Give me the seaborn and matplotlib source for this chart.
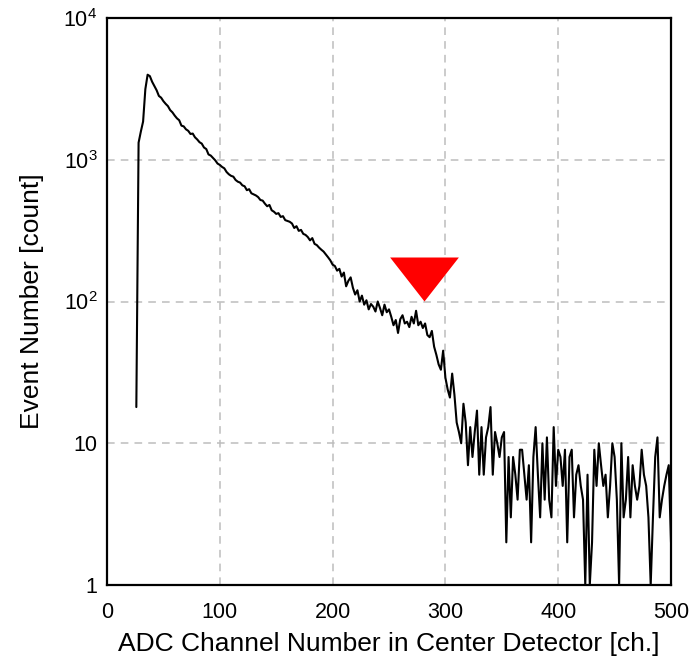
import numpy as np
import pandas as pd
import matplotlib
matplotlib.use("Agg")
import matplotlib.pyplot as plt
from matplotlib.ticker import FixedLocator, NullLocator
import seaborn as sns

# ---- data (ADC spectrum, 2-channel bins) ----
channel_start = 26
channel_step = 2
counts = [
    18, 1320, 1580, 1860, 3150, 3980, 3890, 3550, 3310, 3090,   # 26-44
    2820, 2740, 2590, 2480, 2390, 2240, 2160, 2050, 1960, 1900, # 46-64
    1740, 1720, 1640, 1600, 1520, 1530, 1440, 1390, 1330, 1300, # 66-84
    1220, 1190, 1090, 1070, 1030, 990, 940, 920, 890, 870,      # 86-104
    820, 790, 770, 760, 720, 700, 690, 660, 650, 610,           # 106-124
    620, 580, 570, 560, 545, 520, 515, 490, 470, 480,           # 126-144
    440, 430, 415, 420, 395, 400, 375, 370, 365, 355,           # 146-164
    330, 340, 315, 320, 300, 295, 285, 270, 280, 255,           # 166-184
    250, 240, 232, 225, 215, 205, 195, 182, 178, 165,           # 186-204
    170, 150, 160, 128, 140, 148, 125, 112, 120, 100,           # 206-224
    110, 95, 102, 88, 96, 92, 85, 100, 90, 80,                  # 226-244
    95, 84, 88, 78, 68, 74, 60, 75, 80, 70,                     # 246-264
    72, 66, 78, 70, 86, 68, 72, 65, 70, 58,                     # 266-284
    56, 62, 48, 42, 36, 33, 45, 29, 24, 21,                     # 286-304
    31, 22, 14, 12, 10, 19, 14, 7, 13, 8,                       # 306-324
    12, 17, 6, 13, 6, 11, 13, 18, 6, 12,                        # 326-344
    10, 8, 11, 12, 2, 8, 3, 8, 6, 4,                            # 346-364
    9, 9, 6, 4, 7, 2, 8, 13, 6, 3,                              # 366-384
    10, 4, 11, 4, 3, 13, 5, 9, 8, 5,                            # 386-404
    9, 2, 8, 9, 3, 6, 7, 5, 4, 1,                               # 406-424
    6, 1, 2, 9, 5, 10, 7, 5, 6, 3,                              # 426-444
    5, 10, 8, 4, 1, 10, 3, 4, 8, 3,                             # 446-464
    7, 5, 4, 5, 9, 6, 5, 3, 1, 3,                               # 466-484
    8, 11, 3, 4, 5, 6, 7, 2,                                    # 486-500
]
channels = channel_start + channel_step * np.arange(len(counts))

# marker pointing at the spectral edge
edge_channel = [281]
edge_count = [145]

x_ticks = [0, 100, 200, 300, 400, 500]
y_ticks = [1, 10, 100, 1000, 10000]
y_tick_labels = ["1", "10", r"10$^{2}$", r"10$^{3}$", r"10$^{4}$"]

df = pd.DataFrame({"channel": channels, "count": counts})

sns.set_theme(style="white")
plt.rcParams["font.family"] = ["Liberation Sans", "DejaVu Sans"]
plt.rcParams["mathtext.fontset"] = "custom"
plt.rcParams["mathtext.rm"] = "Liberation Sans"
plt.rcParams["mathtext.it"] = "Liberation Sans:italic"
plt.rcParams["mathtext.bf"] = "Liberation Sans:bold"

fig = plt.figure(figsize=(6.94, 6.66), dpi=100)
ax = fig.add_axes([107 / 694, 1 - 585 / 666, (671 - 107) / 694, (585 - 18) / 666])

ax.set_yscale("log")
sns.lineplot(data=df, x="channel", y="count", ax=ax, color="black",
             linewidth=1.5, estimator=None, sort=False)

tri = [(-1, 0.64), (1, 0.64), (0, -0.64), (-1, 0.64)]
ax.scatter(edge_channel, edge_count, marker=tri, s=49.5 ** 2,
           color="#ff0000", linewidths=0, zorder=5)

ax.set_xlim(0, 500)
ax.set_ylim(1, 10000)
ax.xaxis.set_major_locator(FixedLocator(x_ticks))
ax.yaxis.set_major_locator(FixedLocator(y_ticks))
ax.yaxis.set_minor_locator(NullLocator())
ax.set_xticklabels([str(t) for t in x_ticks])
ax.set_yticklabels(y_tick_labels)

ax.grid(True, which="major", color="#bdbdbd", linestyle=(0, (5, 4)), linewidth=1.1)
for s in ax.spines.values():
    s.set_visible(True)
    s.set_color("black")
    s.set_linewidth(1.6)

ax.tick_params(axis="both", which="major", direction="in", length=5, width=1.2,
               color="black", labelsize=15.5, labelcolor="black")
ax.tick_params(axis="x", pad=12)
ax.tick_params(axis="y", pad=7)

ax.set_xlabel("ADC Channel Number in Center Detector [ch.]", fontsize=19,
              color="black", labelpad=7)
ax.set_ylabel("Event Number [count]", fontsize=19, color="black", labelpad=14)

fig.savefig("out.png", dpi=100)
